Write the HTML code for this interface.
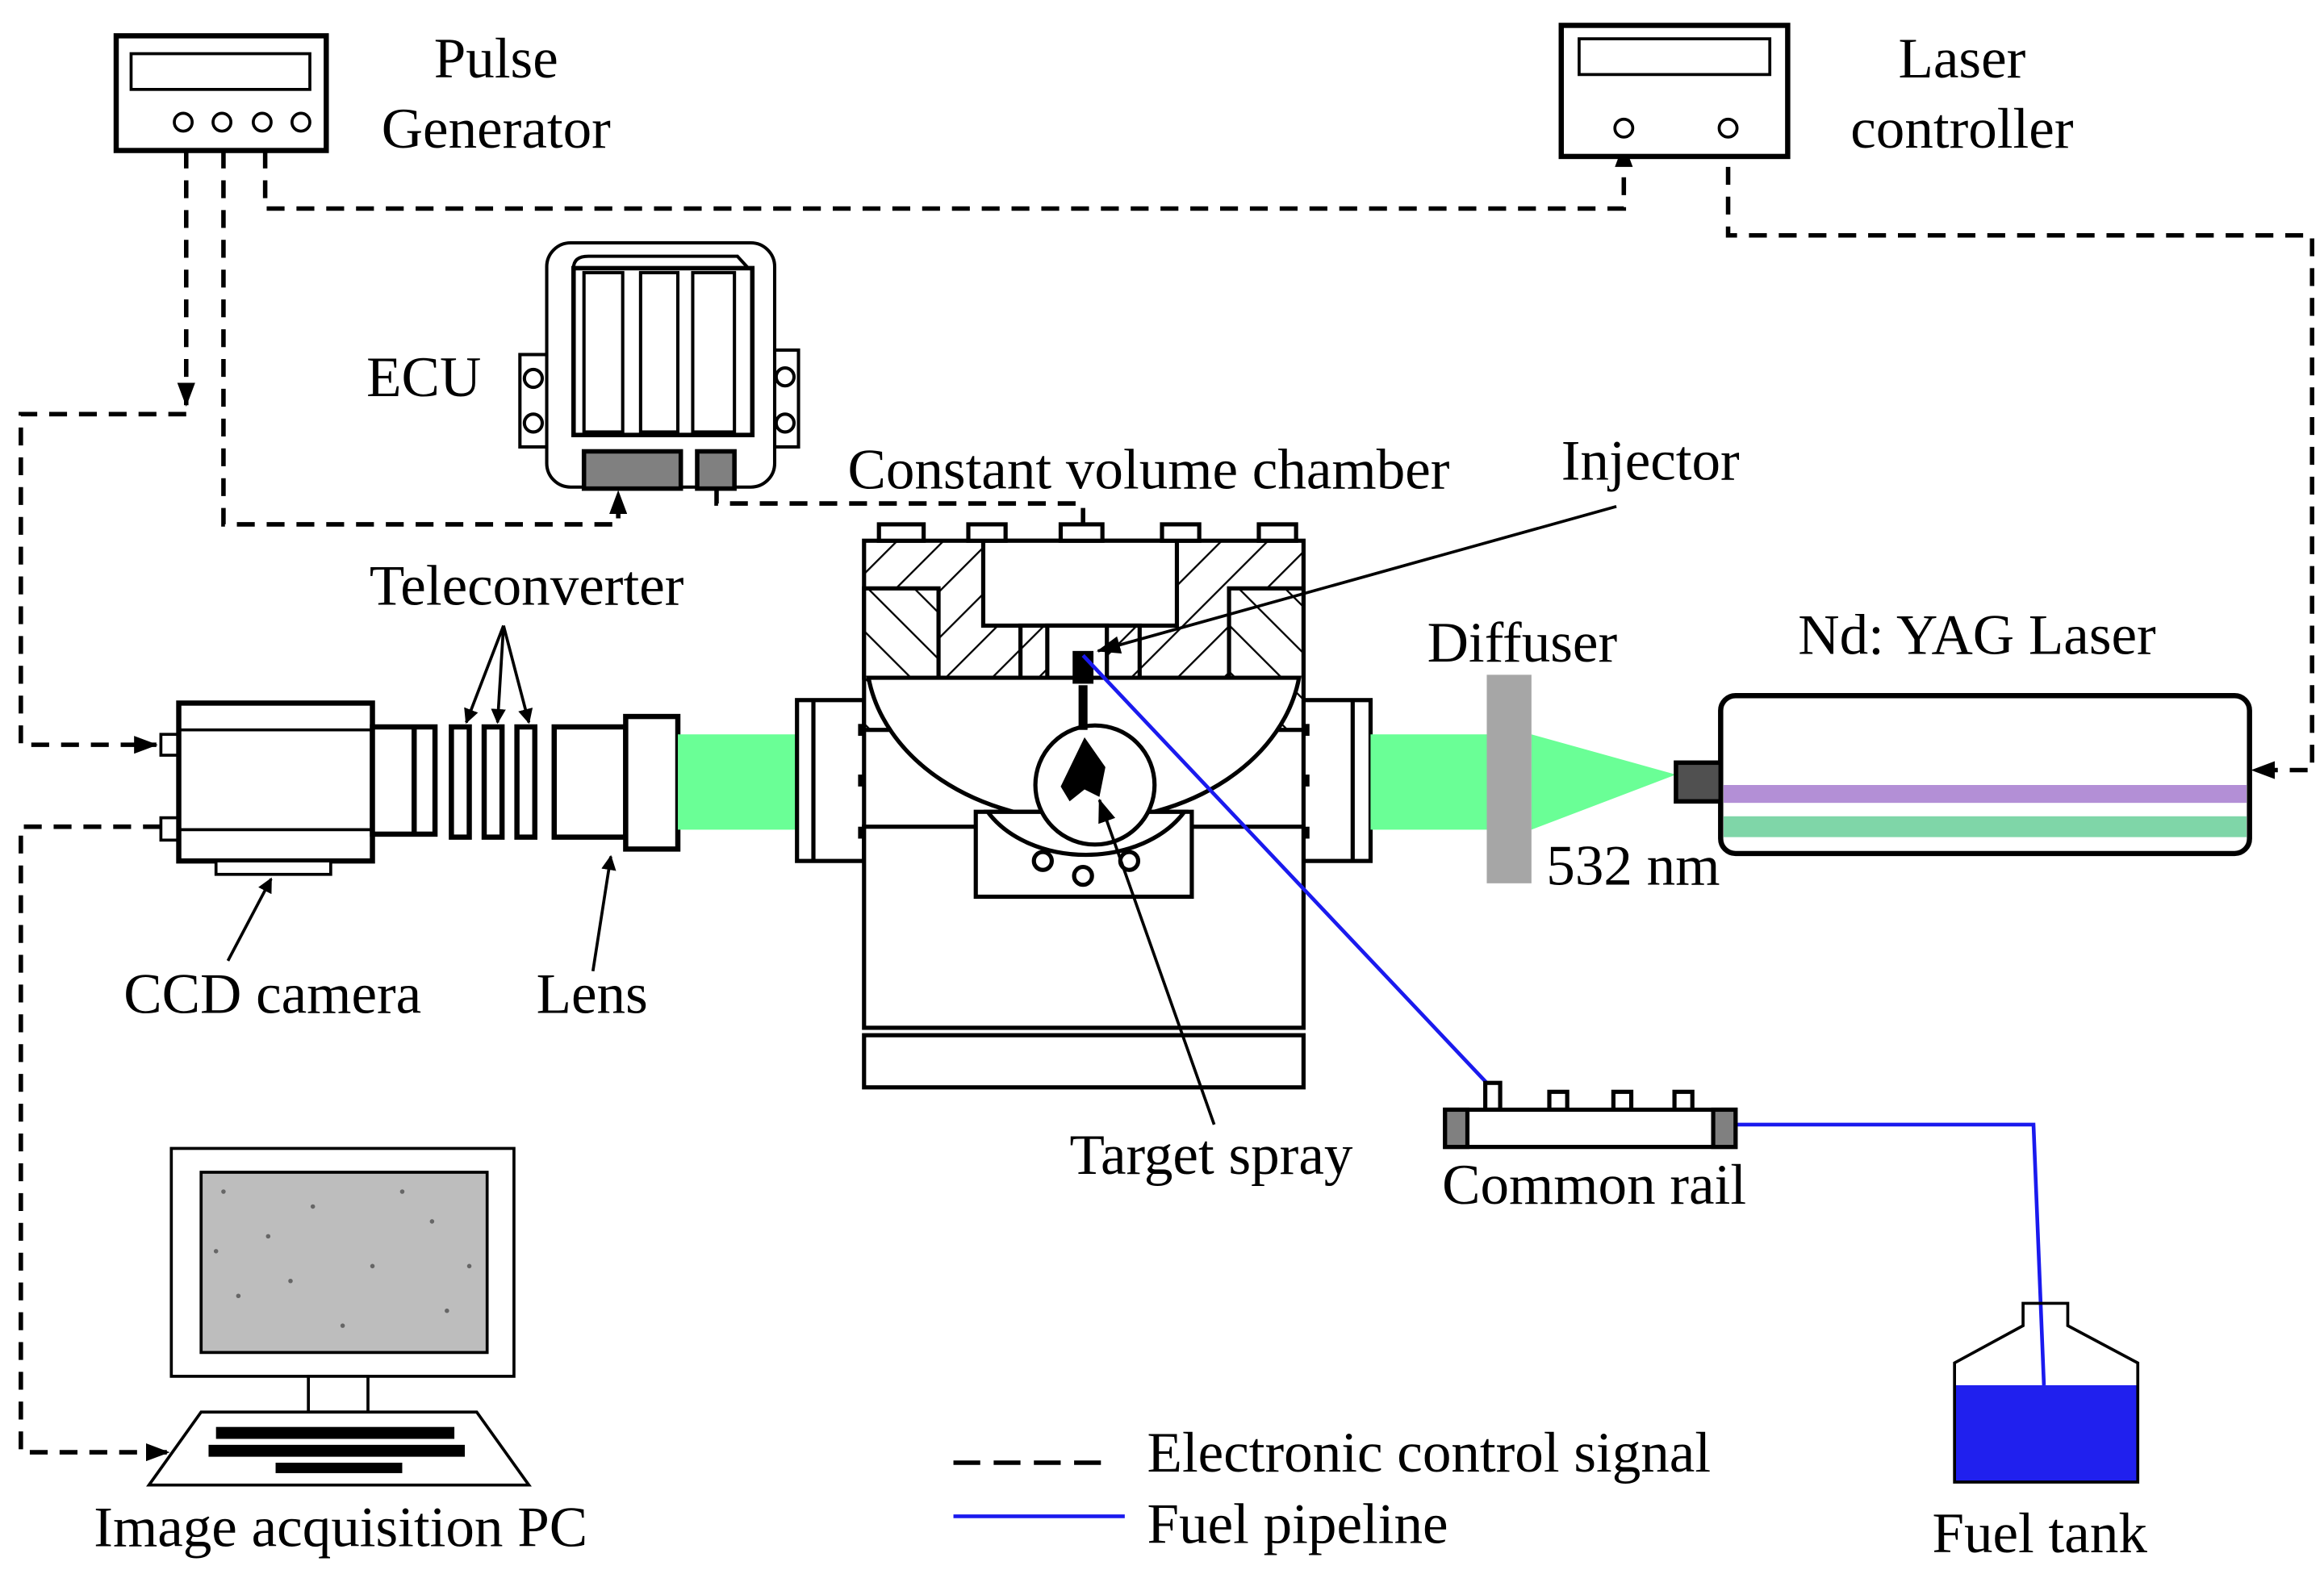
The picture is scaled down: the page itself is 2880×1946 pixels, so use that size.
<!DOCTYPE html>
<html><head><style>html,body{margin:0;padding:0;background:#fff}svg{display:block}</style></head>
<body>
<svg width="2880" height="1946" viewBox="0 0 1560 1054" xmlns="http://www.w3.org/2000/svg" font-family="'Liberation Serif',serif" font-size="38.5">
<defs>
<pattern id="h" width="22" height="22" patternUnits="userSpaceOnUse" patternTransform="rotate(45)"><rect width="22" height="22" fill="#fff"/><line x1="0" y1="0" x2="0" y2="22" stroke="#000" stroke-width="2.5"/></pattern>
<pattern id="h2" width="22" height="22" patternUnits="userSpaceOnUse" patternTransform="rotate(-45)"><rect width="22" height="22" fill="#fff"/><line x1="0" y1="0" x2="0" y2="22" stroke="#000" stroke-width="2.5"/></pattern>
<marker id="a" markerWidth="10" markerHeight="10" refX="9" refY="5" orient="auto" markerUnits="userSpaceOnUse"><path d="M0,0 L10,5 L0,10 z"/></marker>
<marker id="b" markerWidth="16" markerHeight="12" refX="15" refY="6" orient="auto" markerUnits="userSpaceOnUse"><path d="M0,0 L16,6 L0,12 z"/></marker>
</defs>
<rect width="1560" height="1054" fill="#fff"/>

<g fill="none" stroke="#000" stroke-width="3" stroke-dasharray="12,8">
<path d="M125,101 V272" marker-end="url(#b)"/>
<path d="M125,278 H14 V500 H105" marker-end="url(#b)"/>
<path d="M150,101 V352 H415 V330" marker-end="url(#b)"/>
<path d="M178,101 V140 H1090 V97" marker-end="url(#b)"/>
<path d="M1160,92 V158 H1552 V517 H1512" marker-end="url(#b)"/>
<path d="M108,555 H14 V975 H113" marker-end="url(#b)"/>
<path d="M481,327 V338 H727 V438" marker-end="url(#b)"/>
</g>

<rect x="78" y="24" width="141" height="77" fill="#fff" stroke="#000" stroke-width="3.5"/>
<rect x="88" y="36" width="120" height="24" fill="none" stroke="#000" stroke-width="2"/>
<g fill="#fff" stroke="#000" stroke-width="2"><circle cx="123" cy="82" r="6"/><circle cx="149" cy="82" r="6"/><circle cx="176" cy="82" r="6"/><circle cx="202" cy="82" r="6"/></g>
<text x="333" y="52" text-anchor="middle">Pulse</text>
<text x="333" y="99" text-anchor="middle">Generator</text>

<rect x="1048" y="17" width="152" height="88" fill="#fff" stroke="#000" stroke-width="3.5"/>
<rect x="1060" y="26" width="128" height="24" fill="none" stroke="#000" stroke-width="2"/>
<g fill="#fff" stroke="#000" stroke-width="2"><circle cx="1090" cy="86" r="6"/><circle cx="1160" cy="86" r="6"/></g>
<text x="1317" y="52" text-anchor="middle">Laser</text>
<text x="1317" y="99" text-anchor="middle">controller</text>

<g stroke="#000" stroke-width="2.2" fill="#fff">
<rect x="349" y="238" width="18" height="62"/><rect x="520" y="235" width="16" height="65"/>
<circle cx="358" cy="254" r="6"/><circle cx="358" cy="284" r="6"/><circle cx="527" cy="253" r="6"/><circle cx="527" cy="284" r="6"/>
<rect x="367" y="163" width="153" height="164" rx="16"/>
<path d="M385,292 V180 Q385,172 395,172 H495 L505,183 V292 Z"/>
<rect x="385" y="180" width="120" height="112" stroke-width="3"/>
<rect x="392" y="183" width="26" height="107"/><rect x="430" y="183" width="25" height="107"/><rect x="465" y="183" width="28" height="107"/>
<rect x="392" y="303" width="65" height="25" fill="#808080" stroke-width="3"/><rect x="468" y="303" width="25" height="25" fill="#808080" stroke-width="3"/>
</g>
<text x="246" y="266">ECU</text>

<g stroke="#000" stroke-width="3.5" fill="#fff">
<rect x="108" y="493" width="12" height="14" stroke-width="2"/><rect x="108" y="549" width="12" height="15" stroke-width="2"/>
<rect x="120" y="472" width="130" height="106"/>
<line x1="120" y1="490" x2="250" y2="490" stroke-width="2"/><line x1="120" y1="557" x2="250" y2="557" stroke-width="2"/>
<rect x="145" y="578" width="77" height="9" stroke-width="2"/>
<rect x="250" y="488" width="42" height="72"/><line x1="278" y1="488" x2="278" y2="560"/>
<rect x="303" y="488" width="12" height="74"/><rect x="325" y="488" width="12" height="74"/><rect x="347" y="488" width="12" height="74"/>
<rect x="372" y="488" width="48" height="74"/><rect x="420" y="481" width="35" height="89"/>
</g>
<rect x="455" y="493" width="80" height="64" fill="#6aff96"/>
<text x="248" y="406">Teleconverter</text>
<g stroke="#000" stroke-width="2"><line x1="338" y1="420" x2="313" y2="485" marker-end="url(#a)"/><line x1="338" y1="420" x2="334" y2="485" marker-end="url(#a)"/><line x1="338" y1="420" x2="355" y2="485" marker-end="url(#a)"/>
<line x1="153" y1="645" x2="182" y2="590" marker-end="url(#a)"/><line x1="398" y1="652" x2="410" y2="575" marker-end="url(#a)"/></g>
<text x="83" y="680">CCD camera</text>
<text x="360" y="680">Lens</text>

<g stroke="#000" stroke-width="2.8" fill="#fff">
<rect x="535" y="470" width="45" height="108"/><line x1="546" y1="470" x2="546" y2="578"/>
<rect x="875" y="470" width="45" height="108"/><line x1="908" y1="470" x2="908" y2="578"/>
<rect x="580" y="555" width="295" height="135"/>
<rect x="580" y="695" width="295" height="35"/>
<rect x="580" y="363" width="295" height="92" fill="url(#h)"/>
<rect x="580" y="395" width="50" height="95" fill="url(#h2)"/>
<rect x="825" y="395" width="50" height="95" fill="url(#h2)"/>
<rect x="660" y="363" width="130" height="57"/>
<rect x="685" y="420" width="80" height="55" fill="url(#h)"/>
<rect x="703" y="420" width="40" height="45"/>
<path d="M583,455 A146,112 0 0 0 872,455 Z"/>
<rect x="655" y="545" width="145" height="57"/>
<path d="M663,545 A75,55 0 0 0 795,545 Z"/>
<circle cx="735" cy="527" r="40"/>
<rect x="590" y="352" width="30" height="11"/><rect x="650" y="352" width="25" height="11"/><rect x="712" y="352" width="28" height="11"/><rect x="780" y="352" width="25" height="11"/><rect x="845" y="352" width="25" height="11"/>
<circle cx="700" cy="578" r="6"/><circle cx="727" cy="588" r="6"/><circle cx="758" cy="578" r="6"/>
</g>
<g fill="#000"><rect x="576" y="486" width="4" height="8"/><rect x="576" y="520" width="4" height="8"/><rect x="576" y="555" width="4" height="8"/><rect x="875" y="486" width="4" height="8"/><rect x="875" y="520" width="4" height="8"/><rect x="875" y="555" width="4" height="8"/>
<rect x="720" y="437" width="14" height="22"/><rect x="724" y="460" width="6" height="30"/>
<path d="M728,495 L742,515 L738,535 L728,530 L718,538 L712,528 Z"/></g>
<rect x="920" y="493" width="80" height="64" fill="#6aff96"/>
<path d="M1028,493 L1125,520 L1028,557 Z" fill="#6aff96"/>
<rect x="998" y="453" width="30" height="140" fill="#a6a6a6"/>
<text x="569" y="328">Constant volume chamber</text>
<text x="1048" y="322">Injector</text>
<text x="958" y="444">Diffuser</text>
<text x="1038" y="594">532 nm</text>
<g stroke="#000" stroke-width="2"><line x1="1085" y1="340" x2="737" y2="437" marker-end="url(#b)"/><line x1="815" y1="755" x2="738" y2="537" marker-end="url(#b)"/></g>
<text x="718" y="788">Target spray</text>

<rect x="1155" y="467" width="355" height="106" rx="10" fill="#fff" stroke="#000" stroke-width="3.5"/>
<rect x="1157" y="527" width="351" height="12" fill="#b38fd6"/>
<rect x="1157" y="548" width="351" height="14" fill="#7fd6a8"/>
<rect x="1125" y="512" width="30" height="26" fill="#505050" stroke="#000" stroke-width="3"/>
<text x="1207" y="439">Nd: YAG Laser</text>

<g stroke="#1a1aee" stroke-width="2.5" fill="none"><line x1="727" y1="440" x2="998" y2="727"/><path d="M1165,755 H1365 L1372,930"/></g>

<g stroke="#000" stroke-width="2.8" fill="#fff">
<rect x="997" y="727" width="10" height="18"/><rect x="1040" y="733" width="12" height="12"/><rect x="1083" y="733" width="12" height="12"/><rect x="1124" y="733" width="12" height="12"/>
<rect x="970" y="745" width="195" height="25"/>
<rect x="970" y="745" width="15" height="25" fill="#808080"/><rect x="1150" y="745" width="15" height="25" fill="#808080"/>
</g>
<text x="968" y="808">Common rail</text>

<path d="M1312,930 H1435 V995 H1312 Z" fill="#2020ee"/>
<path d="M1358,875 H1388 V890 L1435,915 V995 H1312 V915 L1358,890 Z" fill="none" stroke="#000" stroke-width="2"/>
<text x="1297" y="1042">Fuel tank</text>

<g stroke="#000" stroke-width="2" fill="#fff">
<rect x="115" y="771" width="230" height="153"/>
<rect x="135" y="787" width="192" height="121" fill="#bdbdbd"/>
<rect x="207" y="924" width="40" height="24"/>
<path d="M100,997 H355 L320,948 H135 Z"/>
</g>
<g fill="#666">
<circle cx="150" cy="800" r="1.5"/><circle cx="180" cy="830" r="1.5"/><circle cx="210" cy="810" r="1.5"/><circle cx="250" cy="850" r="1.5"/><circle cx="290" cy="820" r="1.5"/><circle cx="160" cy="870" r="1.5"/><circle cx="230" cy="890" r="1.5"/><circle cx="300" cy="880" r="1.5"/><circle cx="270" cy="800" r="1.5"/><circle cx="195" cy="860" r="1.5"/><circle cx="315" cy="850" r="1.5"/><circle cx="145" cy="840" r="1.5"/></g>
<g fill="#000">
<rect x="145" y="958" width="160" height="8"/><rect x="140" y="970" width="172" height="8"/><rect x="185" y="982" width="85" height="7"/></g>
<text x="63" y="1038">Image acquisition PC</text>

<line x1="640" y1="982" x2="748" y2="982" stroke="#000" stroke-width="3" stroke-dasharray="18,9"/>
<line x1="640" y1="1018" x2="755" y2="1018" stroke="#1a1aee" stroke-width="2.5"/>
<text x="770" y="988">Electronic control signal</text>
<text x="770" y="1036">Fuel pipeline</text>
</svg>
</body></html>
